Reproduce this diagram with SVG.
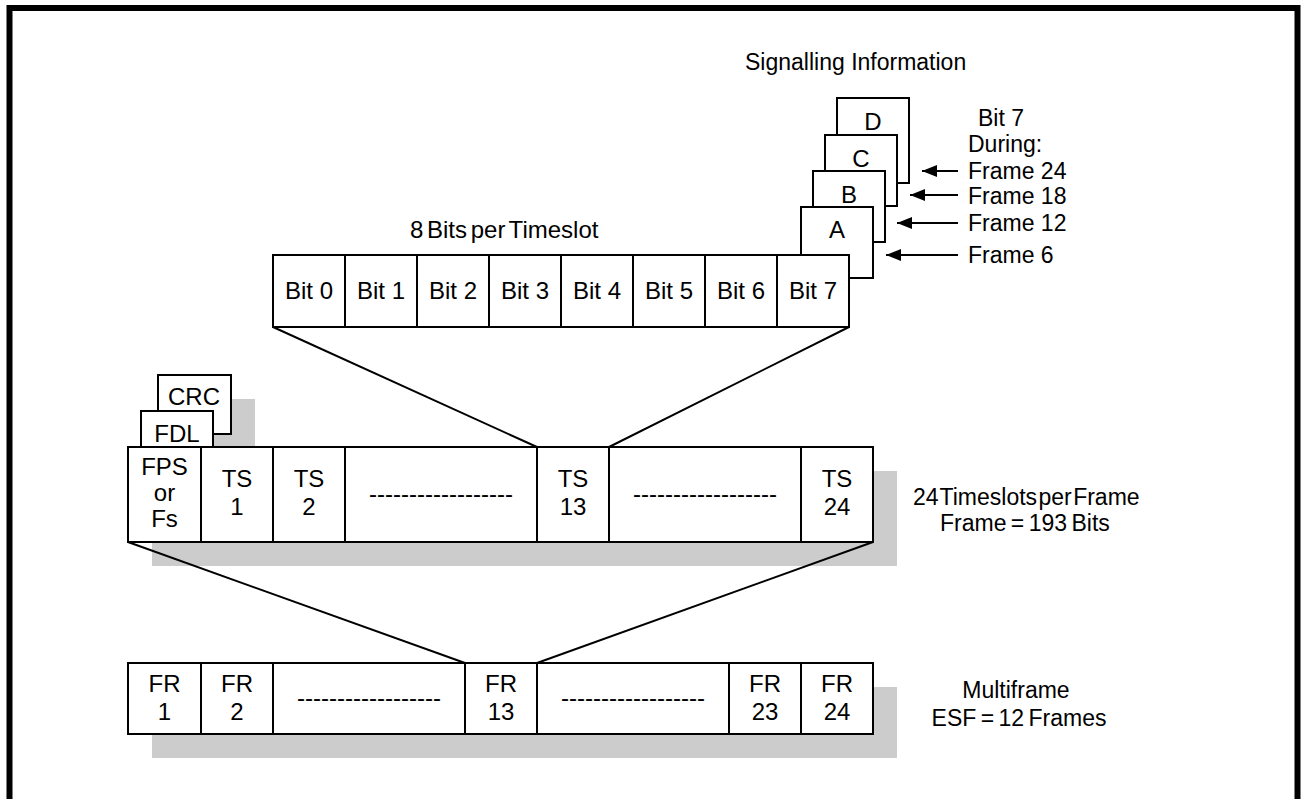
<svg xmlns="http://www.w3.org/2000/svg" width="1301" height="799" viewBox="0 0 1301 799">
<defs>
<style>
.box{fill:#fff;stroke:#000;stroke-width:2}
.sh{fill:#ccc;stroke:none}
.ln{stroke:#000;stroke-width:2;fill:none}
.t{font-family:"Liberation Sans",Arial,sans-serif;font-size:24px;fill:#000}
.l{font-family:"Liberation Sans",Arial,sans-serif;font-size:23px;fill:#000}
.c{text-anchor:middle}
</style>
<marker id="ah" viewBox="0 0 15 12" refX="15" refY="6" markerWidth="15" markerHeight="12" markerUnits="userSpaceOnUse" orient="auto">
<path d="M0,0 L15,6 L0,12 Z" fill="#000"/>
</marker>
</defs>
<rect width="1301" height="799" fill="#fff"/>
<rect x="9.5" y="8" width="1288" height="820" fill="none" stroke="#000" stroke-width="6"/>

<text class="l" x="745" y="70">Signalling Information</text>

<g id="sig-D"><rect class="box" x="837" y="98" width="72" height="85"/><text class="t c" x="873" y="130">D</text></g>
<g id="sig-C"><rect class="box" x="825" y="135" width="72" height="71"/><text class="t c" x="861" y="167">C</text></g>
<g id="sig-B"><rect class="box" x="813" y="171" width="72" height="71"/><text class="t c" x="849" y="203">B</text></g>
<g id="sig-A"><rect class="box" x="801" y="207" width="72" height="71"/><text class="t c" x="837" y="238">A</text></g>

<g id="sig-labels">
<text class="l" x="978" y="126">Bit 7</text>
<text class="l" x="968" y="152">During:</text>
<text class="l" x="968" y="179">Frame 24</text>
<text class="l" x="968" y="204">Frame 18</text>
<text class="l" x="968" y="231">Frame 12</text>
<text class="l" x="968" y="263">Frame 6</text>
</g>

<text class="t" x="410" y="238" word-spacing="-3">8 Bits per Timeslot</text>

<g id="bits">
<g id="bit0"><rect class="box" x="273" y="255" width="72" height="72"/><text class="t c" x="309" y="299">Bit 0</text></g>
<g id="bit1"><rect class="box" x="345" y="255" width="72" height="72"/><text class="t c" x="381" y="299">Bit 1</text></g>
<g id="bit2"><rect class="box" x="417" y="255" width="72" height="72"/><text class="t c" x="453" y="299">Bit 2</text></g>
<g id="bit3"><rect class="box" x="489" y="255" width="72" height="72"/><text class="t c" x="525" y="299">Bit 3</text></g>
<g id="bit4"><rect class="box" x="561" y="255" width="72" height="72"/><text class="t c" x="597" y="299">Bit 4</text></g>
<g id="bit5"><rect class="box" x="633" y="255" width="72" height="72"/><text class="t c" x="669" y="299">Bit 5</text></g>
<g id="bit6"><rect class="box" x="705" y="255" width="72" height="72"/><text class="t c" x="741" y="299">Bit 6</text></g>
<g id="bit7"><rect class="box" x="777" y="255" width="72" height="72"/><text class="t c" x="813" y="299">Bit 7</text></g>
</g>

<g id="shadows">
<rect class="sh" x="152" y="471" width="745" height="95"/>
<rect class="sh" x="182" y="399" width="73" height="59"/>
<rect class="sh" x="152" y="687" width="745" height="71"/>
</g>

<g id="crc"><rect class="box" x="158" y="375" width="73" height="59"/><text class="t c" x="194" y="405">CRC</text></g>
<g id="fdl"><rect class="box" x="141" y="411" width="72" height="40"/><text class="t c" x="177" y="442">FDL</text></g>

<g id="frame">
<g id="fps"><rect class="box" x="128" y="447" width="73" height="95"/><text class="t c" x="164.5" y="475">FPS</text><text class="t c" x="164.5" y="501">or</text><text class="t c" x="164.5" y="527">Fs</text></g>
<g id="ts1"><rect class="box" x="201" y="447" width="72" height="95"/><text class="t c" x="237" y="487">TS</text><text class="t c" x="237" y="515">1</text></g>
<g id="ts2"><rect class="box" x="273" y="447" width="72" height="95"/><text class="t c" x="309" y="487">TS</text><text class="t c" x="309" y="515">2</text></g>
<g id="ts-gap1"><rect class="box" x="345" y="447" width="192" height="95"/><text class="t c" x="441" y="502">------------------</text></g>
<g id="ts13"><rect class="box" x="537" y="447" width="72" height="95"/><text class="t c" x="573" y="487">TS</text><text class="t c" x="573" y="515">13</text></g>
<g id="ts-gap2"><rect class="box" x="609" y="447" width="192" height="95"/><text class="t c" x="705" y="502">------------------</text></g>
<g id="ts24"><rect class="box" x="801" y="447" width="72" height="95"/><text class="t c" x="837" y="487">TS</text><text class="t c" x="837" y="515">24</text></g>
</g>
<g id="frame-label">
<text class="l" x="913" y="505" word-spacing="-5">24 Timeslots per Frame</text>
<text class="l" x="940" y="531" word-spacing="-2">Frame = 193 Bits</text>
</g>

<g id="multiframe">
<g id="fr1"><rect class="box" x="128" y="663" width="73" height="71"/><text class="t c" x="164.5" y="692">FR</text><text class="t c" x="164.5" y="720">1</text></g>
<g id="fr2"><rect class="box" x="201" y="663" width="72" height="71"/><text class="t c" x="237" y="692">FR</text><text class="t c" x="237" y="720">2</text></g>
<g id="fr-gap1"><rect class="box" x="273" y="663" width="192" height="71"/><text class="t c" x="369" y="706">------------------</text></g>
<g id="fr13"><rect class="box" x="465" y="663" width="72" height="71"/><text class="t c" x="501" y="692">FR</text><text class="t c" x="501" y="720">13</text></g>
<g id="fr-gap2"><rect class="box" x="537" y="663" width="192" height="71"/><text class="t c" x="633" y="706">------------------</text></g>
<g id="fr23"><rect class="box" x="729" y="663" width="72" height="71"/><text class="t c" x="765" y="692">FR</text><text class="t c" x="765" y="720">23</text></g>
<g id="fr24"><rect class="box" x="801" y="663" width="72" height="71"/><text class="t c" x="837" y="692">FR</text><text class="t c" x="837" y="720">24</text></g>
</g>
<g id="multiframe-label">
<text class="l c" x="1016" y="698">Multiframe</text>
<text class="l c" x="1019" y="726" word-spacing="-2">ESF = 12 Frames</text>
</g>

<g id="connectors">
<line class="ln" x1="273" y1="327" x2="537" y2="447"/>
<line class="ln" x1="849" y1="327" x2="609" y2="447"/>
<line class="ln" x1="128" y1="542" x2="465" y2="663"/>
<line class="ln" x1="873" y1="542" x2="537" y2="663"/>
<line class="ln" x1="958" y1="171" x2="922" y2="171" marker-end="url(#ah)"/>
<line class="ln" x1="958" y1="195" x2="910" y2="195" marker-end="url(#ah)"/>
<line class="ln" x1="958" y1="223" x2="897" y2="223" marker-end="url(#ah)"/>
<line class="ln" x1="958" y1="255" x2="886" y2="255" marker-end="url(#ah)"/>
</g>
</svg>
